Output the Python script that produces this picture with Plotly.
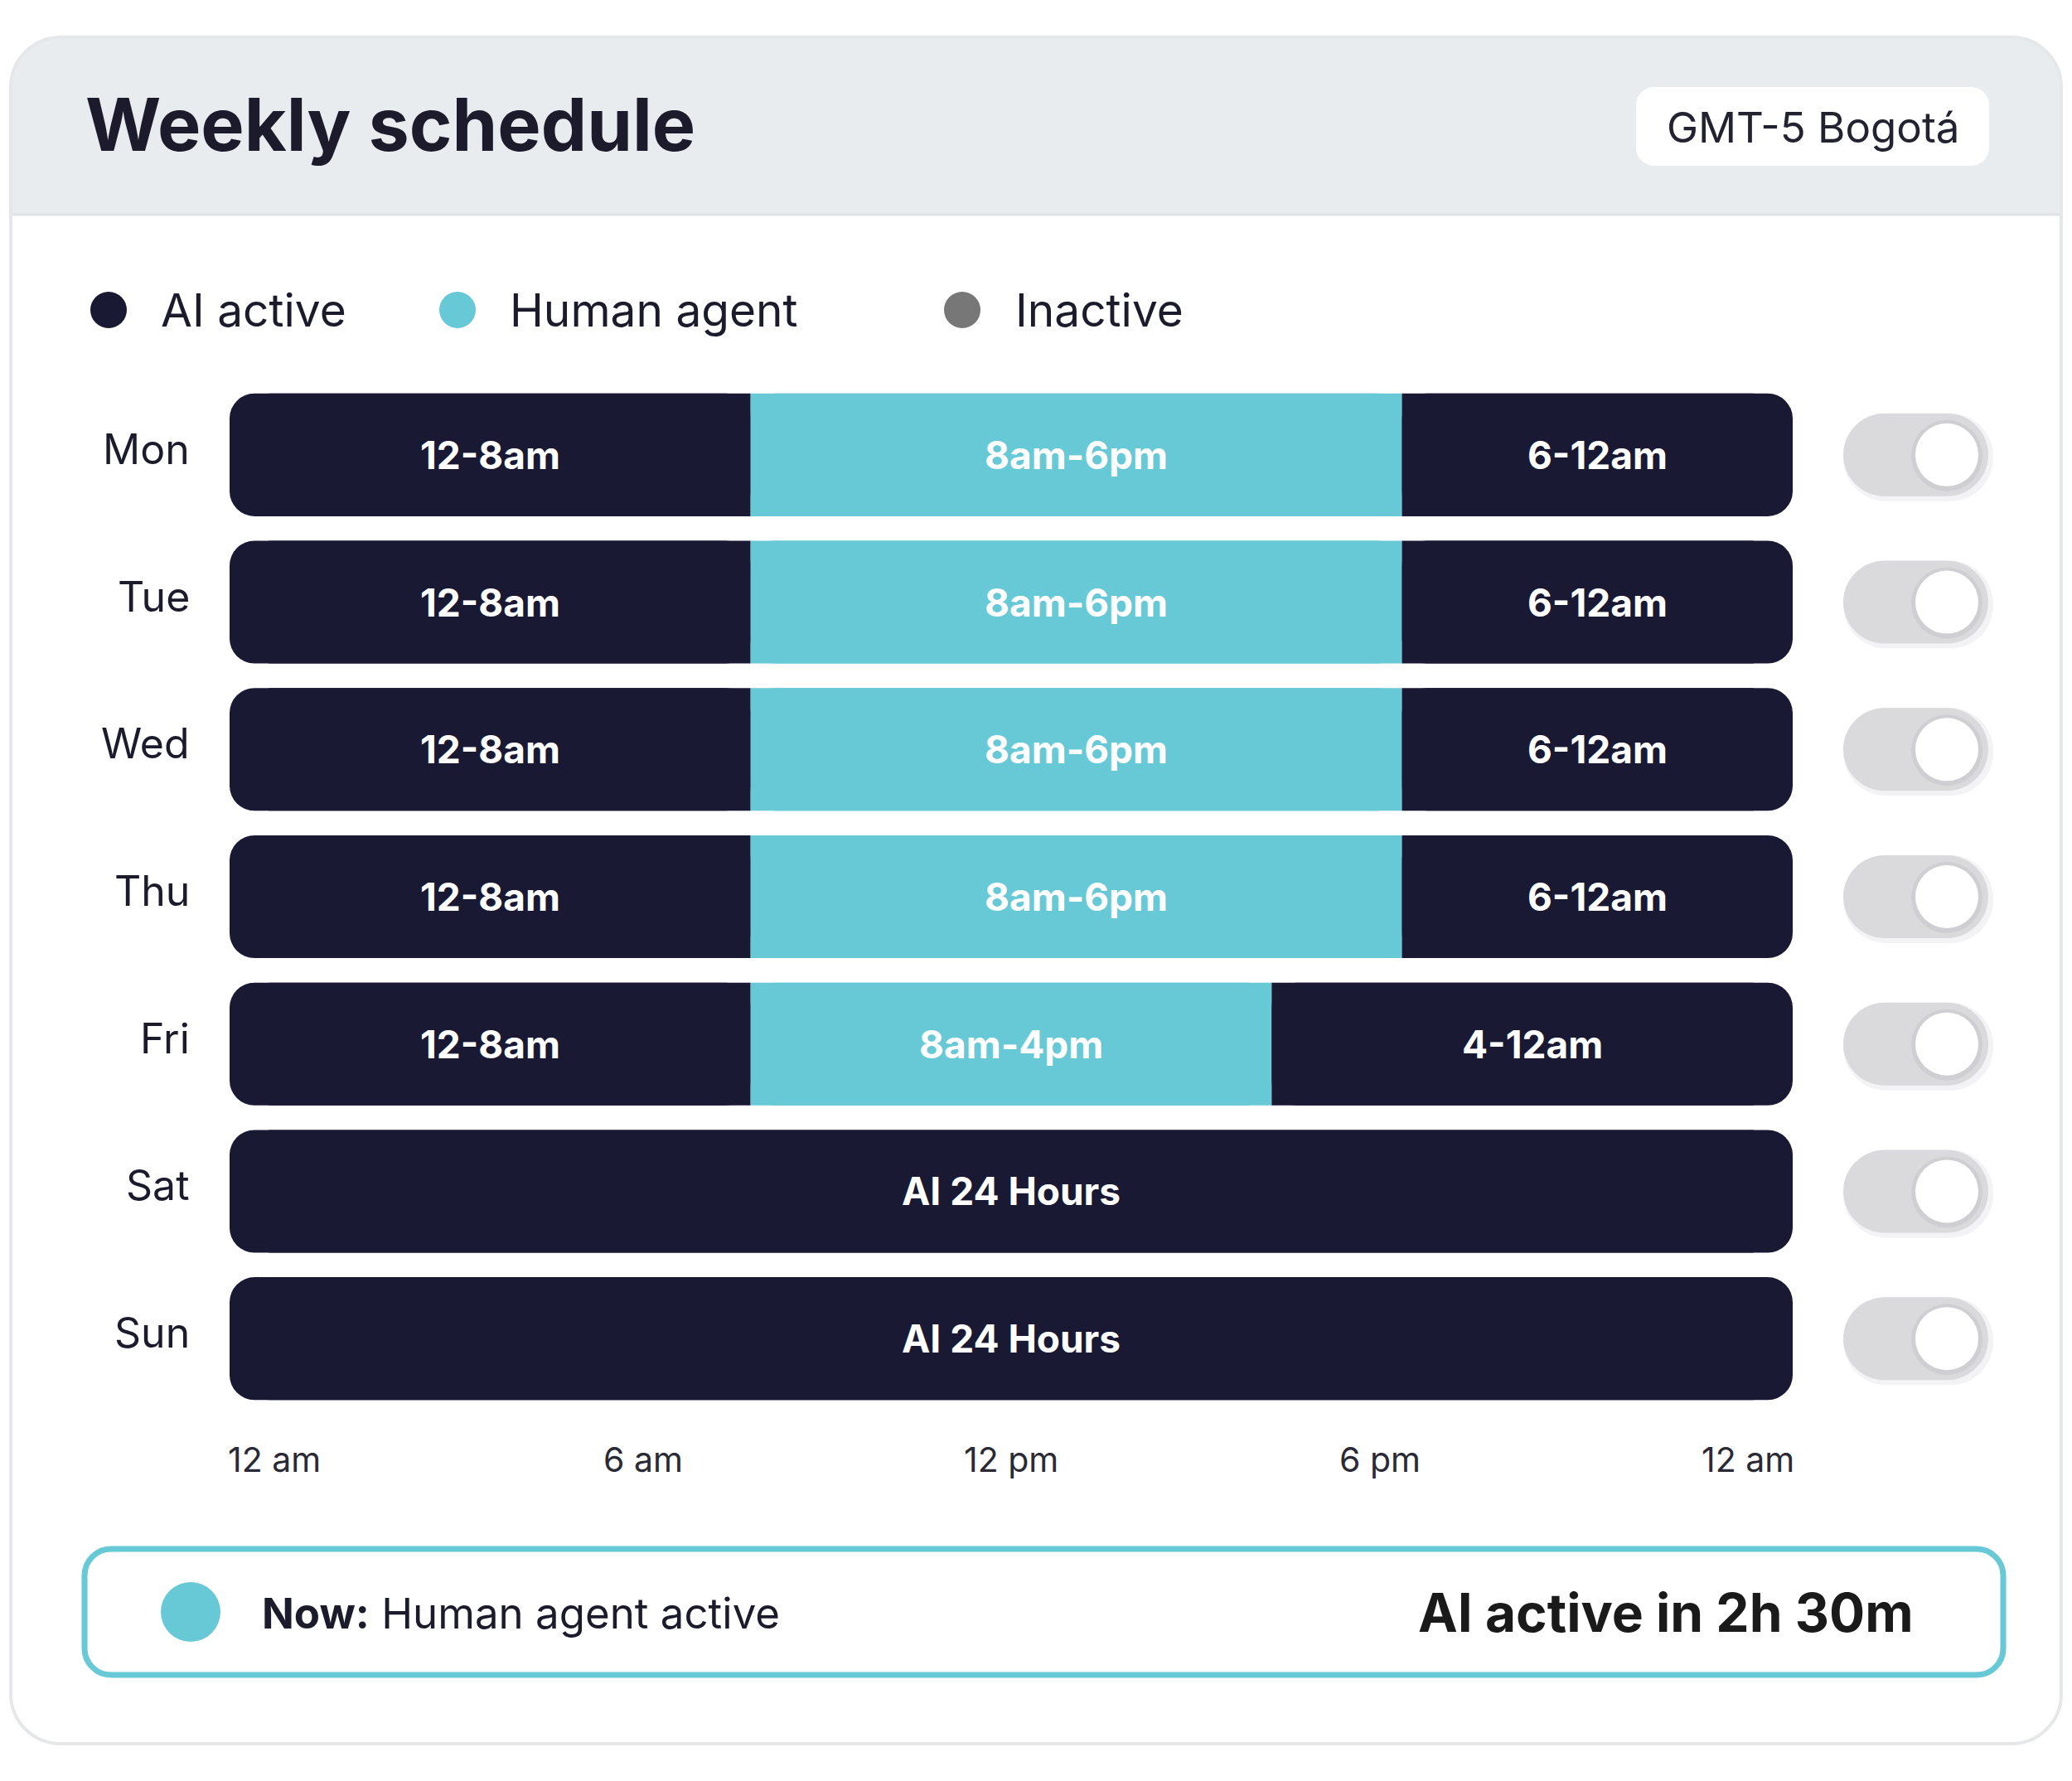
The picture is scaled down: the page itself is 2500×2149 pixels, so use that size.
import plotly.graph_objects as go

# ---------------- data ----------------
days = ["Mon", "Tue", "Wed", "Thu", "Fri", "Sat", "Sun"]
human_start = [8, 8, 8, 8, 8, None, None]
human_end = [18, 18, 18, 18, 16, None, None]
ai_early_labels = ["12-8am", "12-8am", "12-8am", "12-8am", "12-8am", None, None]
human_labels = ["8am-6pm", "8am-6pm", "8am-6pm", "8am-6pm", "8am-4pm", None, None]
ai_late_labels = ["6-12am", "6-12am", "6-12am", "6-12am", "4-12am", None, None]
full_day_label = "AI 24 Hours"
hour_ticks = [0, 6, 12, 18, 24]
hour_tick_labels = ["12 am", "6 am", "12 pm", "6 pm", "12 am"]
legend_labels = ["AI active", "Human agent", "Inactive"]
title_text = "Weekly schedule"
timezone_text = "GMT-5 Bogotá"
status_now = "Human agent active"
status_next = "AI active in 2h 30m"

# ---------------- style ----------------
W, H = 2500, 2149
FONT = "Inter"
AI_C = "#191934"
HUMAN_C = "#67c8d6"
INACTIVE_C = "#777777"
TEXT_C = "#1b1b2c"
DAY_MAX = 24
EDGE_TRIM = 0.6  # hours kept out of the square overlay at the rounded outer ends

def fx(x):
    return x / W

def fy(y):
    return 1 - y / H

K = 0.5523

def rr_path(x0, y0, x1, y1, rtl, rtr, rbr, rbl, cx=lambda v: v, cy=lambda v: v):
    def P(x, y):
        return f"{cx(x):.6f},{cy(y):.6f}"
    s = "M" + P(x0 + rtl, y0)
    s += " L" + P(x1 - rtr, y0)
    if rtr:
        s += " C" + P(x1 - rtr + K * rtr, y0) + " " + P(x1, y0 + rtr - K * rtr) + " " + P(x1, y0 + rtr)
    s += " L" + P(x1, y1 - rbr)
    if rbr:
        s += " C" + P(x1, y1 - rbr + K * rbr) + " " + P(x1 - rbr + K * rbr, y1) + " " + P(x1 - rbr, y1)
    s += " L" + P(x0 + rbl, y1)
    if rbl:
        s += " C" + P(x0 + rbl - K * rbl, y1) + " " + P(x0, y1 - rbl + K * rbl) + " " + P(x0, y1 - rbl)
    s += " L" + P(x0, y0 + rtl)
    if rtl:
        s += " C" + P(x0, y0 + rtl - K * rtl) + " " + P(x0 + rtl - K * rtl, y0) + " " + P(x0 + rtl, y0)
    return s + " Z"

def paper_rr(x0, y0, x1, y1, r, top=True, bottom=True):
    rt = r if top else 0
    rb = r if bottom else 0
    return rr_path(x0, y0, x1, y1, rt, rt, rb, rb, fx, fy)

# ---------------- segments ----------------
segments = []  # (day index, start, end, color, label)
for i, d in enumerate(days):
    hs, he = human_start[i], human_end[i]
    if hs is None:
        segments.append((i, 0, DAY_MAX, AI_C, full_day_label))
    else:
        segments.append((i, 0, hs, AI_C, ai_early_labels[i]))
        segments.append((i, hs, he, HUMAN_C, human_labels[i]))
        segments.append((i, he, DAY_MAX, AI_C, ai_late_labels[i]))

# rounded layer: every segment; square layer: same segment, trimmed at the day's outer edges
rnd = dict(y=[], base=[], x=[], c=[])
sq = dict(y=[], base=[], x=[], c=[])
for (i, s, e, c, lab) in segments:
    rnd["y"].append(i); rnd["base"].append(s); rnd["x"].append(e - s); rnd["c"].append(c)
    s2 = s + EDGE_TRIM if s == 0 else s
    e2 = e - EDGE_TRIM if e == DAY_MAX else e
    sq["y"].append(i); sq["base"].append(s2); sq["x"].append(e2 - s2); sq["c"].append(c)

fig = go.Figure()
BAR_W = 0.833
for grp, rad in ((rnd, 30), (sq, 0)):
    fig.add_trace(go.Bar(
        orientation="h", y=grp["y"], x=grp["x"], base=grp["base"], width=BAR_W,
        marker=dict(color=grp["c"], cornerradius=rad, line=dict(width=0)),
        hoverinfo="skip", showlegend=False,
    ))

annotations = []
for (i, s, e, c, lab) in segments:
    annotations.append(dict(
        x=(s + e) / 2, y=i, xref="x", yref="y", text=f"<b>{lab}</b>", showarrow=False,
        font=dict(family=FONT, size=46, color="#ffffff", weight=700),
        xanchor="center", yanchor="middle",
    ))

# day labels
for i, d in enumerate(days):
    annotations.append(dict(
        x=fx(231), y=i, xref="paper", yref="y", text=d, showarrow=False, yshift=7,
        font=dict(family=FONT, size=50, color=TEXT_C), xanchor="right", yanchor="middle",
    ))

# x tick labels laid out edge-to-edge (first left aligned, last right aligned)
n_t = len(hour_ticks)
for k, (h, lab) in enumerate(zip(hour_ticks, hour_tick_labels)):
    shift = 54 * (1 - 2 * k / (n_t - 1))
    annotations.append(dict(
        x=h, y=fy(1761), xref="x", yref="paper", text=lab, showarrow=False, xshift=shift,
        font=dict(family=FONT, size=41, color="#2a2a35"), xanchor="center", yanchor="middle",
    ))

# title & timezone badge
annotations.append(dict(x=fx(101), y=fy(150), xref="paper", yref="paper", text=f"<b>{title_text}</b>",
                        showarrow=False, xanchor="left", yanchor="middle",
                        font=dict(family=FONT, size=88, color=TEXT_C, weight=700)))
annotations.append(dict(x=fx(2187), y=fy(153), xref="paper", yref="paper", text=timezone_text,
                        showarrow=False, xanchor="center", yanchor="middle",
                        font=dict(family=FONT, size=51, color="#222230")))

# legend
legend_colors = [AI_C, HUMAN_C, INACTIVE_C]
legend_dot_x = [131, 552, 1161]
legend_text_x = [192, 613, 1223]
LEG_Y = 374
shapes = []

# card
shapes.append(dict(type="path", path=paper_rr(13, 45, 2487, 2104, 60), xref="paper", yref="paper",
                   fillcolor="#ffffff", line=dict(width=0), layer="below"))
shapes.append(dict(type="path", path=paper_rr(13, 45, 2487, 259, 60, top=True, bottom=False),
                   xref="paper", yref="paper", fillcolor="#e9ecef", line=dict(width=0), layer="below"))
shapes.append(dict(type="line", x0=fx(13), x1=fx(2487), y0=fy(259), y1=fy(259), xref="paper", yref="paper",
                   line=dict(color="#dfe3e7", width=3), layer="below"))
shapes.append(dict(type="path", path=paper_rr(13, 45, 2487, 2104, 60), xref="paper", yref="paper",
                   fillcolor="rgba(0,0,0,0)", line=dict(color="#e6e7e9", width=4), layer="below"))
# badge
shapes.append(dict(type="path", path=paper_rr(1974, 105, 2400, 200, 22), xref="paper", yref="paper",
                   fillcolor="#ffffff", line=dict(width=0), layer="below"))

for c, dx, tx, lab in zip(legend_colors, legend_dot_x, legend_text_x, legend_labels):
    shapes.append(dict(type="circle", xref="paper", yref="paper",
                       x0=fx(dx - 22), x1=fx(dx + 22), y0=fy(LEG_Y - 22), y1=fy(LEG_Y + 22),
                       fillcolor=c, line=dict(width=0), layer="below"))
    annotations.append(dict(x=fx(tx), y=fy(LEG_Y), xref="paper", yref="paper", text=lab, showarrow=False,
                            xanchor="left", yanchor="middle",
                            font=dict(family=FONT, size=55, color=TEXT_C)))

# toggles, anchored on each day row
TOG_X = fx(2311.5)
pill = rr_path(-87.5, -50, 87.5, 50, 50, 50, 50, 50)
pill_sh = rr_path(-87.5, -56, 93.5, 50, 52, 52, 52, 52)
for i, d in enumerate(days):
    common = dict(xref="paper", yref="y", xanchor=TOG_X, yanchor=i, xsizemode="pixel", ysizemode="pixel", layer="above")
    shapes.append(dict(type="path", path=pill_sh, fillcolor="#f3f3f5", line=dict(width=0), **common))
    shapes.append(dict(type="path", path=pill, fillcolor="#dadadd", line=dict(width=0), **common))
    shapes.append(dict(type="circle", x0=37.5 - 43, x1=37.5 + 43, y0=-44, y1=42, fillcolor="#cfcfd3",
                       line=dict(width=0), **common))
    shapes.append(dict(type="circle", x0=37.5 - 38, x1=37.5 + 38, y0=-38, y1=38, fillcolor="#ffffff",
                       line=dict(width=0), **common))

# status box
shapes.append(dict(type="path", path=paper_rr(102, 1869, 2417, 2021, 32), xref="paper", yref="paper",
                   fillcolor="#ffffff", line=dict(color=HUMAN_C, width=7), layer="below"))
shapes.append(dict(type="circle", xref="paper", yref="paper", x0=fx(230 - 36), x1=fx(230 + 36),
                   y0=fy(1945 - 36), y1=fy(1945 + 36), fillcolor=HUMAN_C, line=dict(width=0), layer="below"))
annotations.append(dict(x=fx(314), y=fy(1946), xref="paper", yref="paper",
                        text=f"<b>Now:</b> {status_now}", showarrow=False, xanchor="left", yanchor="middle",
                        font=dict(family=FONT, size=51, color=TEXT_C)))
annotations.append(dict(x=fx(2311), y=fy(1945), xref="paper", yref="paper",
                        text=f"<b>{status_next}</b>", showarrow=False, xanchor="right", yanchor="middle",
                        font=dict(family=FONT, size=64, color="#1a1a1a", weight=700)))

fig.update_layout(
    width=W, height=H, autosize=False,
    margin=dict(l=0, r=0, t=0, b=0, pad=0),
    paper_bgcolor="#ffffff", plot_bgcolor="rgba(0,0,0,0)",
    barmode="overlay", showlegend=False,
    shapes=shapes, annotations=annotations,
    xaxis=dict(domain=[fx(277), fx(2163)], range=[0, DAY_MAX], visible=False, fixedrange=True),
    yaxis=dict(domain=[fy(1704), fy(460)], range=[6.5, -0.5], visible=False, fixedrange=True),
    font=dict(family=FONT),
)

fig.write_html("out.html", config={"displayModeBar": False},
               post_script="document.body.style.margin='0';document.body.style.overflow='hidden';")
